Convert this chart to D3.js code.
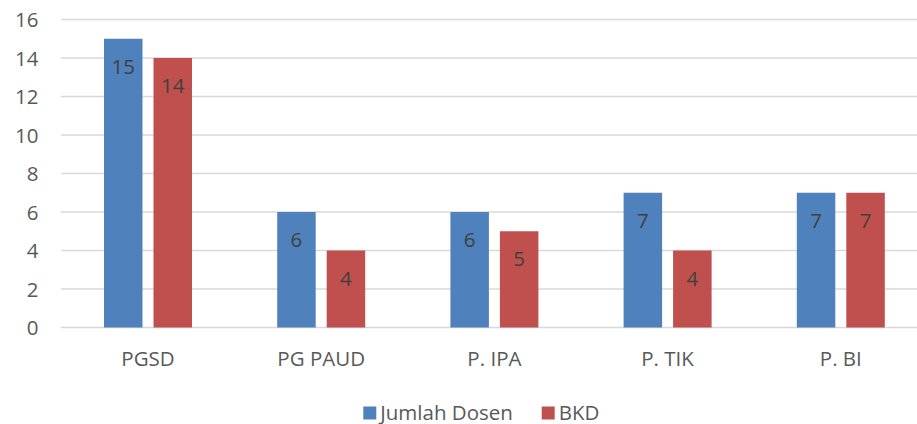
<!DOCTYPE html>
<html><head><meta charset="utf-8">
<script src="https://cdn.jsdelivr.net/npm/d3@7"></script>
<style>html,body{margin:0;padding:0;background:#fff;}svg{display:block;}</style>
</head><body>
<svg id="chart" width="917" height="424"></svg>
<script>
const categories = ["PGSD", "PG PAUD", "P. IPA", "P. TIK", "P. BI"];
const seriesNames = ["Jumlah Dosen", "BKD"];
const jumlahDosen = [15, 6, 6, 7, 7];
const bkd = [14, 4, 5, 4, 7];
const yTicks = [0, 2, 4, 6, 8, 10, 12, 14, 16];
const colors = ["#4F81BD", "#C0504D"];

const seriesValues = [jumlahDosen, bkd];
const svg = d3.select("#chart");
const font = "'Open Sans', sans-serif";
const fs = 20.5;

const x0 = d3.scaleBand().domain(categories).range([61.4, 927.4]).padding(0);
const x1 = d3.scaleBand().domain(seriesNames).range([42.6, 130.6]).paddingInner(0.2222).paddingOuter(0);
const y = d3.scaleLinear().domain([0, 16]).range([327.5, 19.5]);

// gridlines
svg.append("g").selectAll("line").data(yTicks).join("line")
  .attr("x1", 61).attr("x2", 917)
  .attr("y1", d => y(d)).attr("y2", d => y(d))
  .attr("stroke", "#D9D9D9").attr("stroke-width", 1.3);

// y axis labels
const yAxis = d3.axisLeft(y).tickValues(yTicks).tickSize(0).tickPadding(0);
const gy = svg.append("g").attr("transform", "translate(38.5,0)").call(yAxis);
gy.select(".domain").remove();
gy.selectAll("text").attr("font-family", font).attr("font-size", fs).attr("fill", "#595959").attr("dy", "0.36em");

// x axis labels
const xAxis = d3.axisBottom(x0).tickSize(0).tickPadding(0);
const gx = svg.append("g").attr("transform", "translate(0,366)").call(xAxis);
gx.select(".domain").remove();
gx.selectAll("text").attr("font-family", font).attr("font-size", fs).attr("fill", "#595959").attr("dy", "0").attr("y", 0);

// bars
const rows = [];
categories.forEach((c, i) => seriesNames.forEach((s, j) => rows.push({c, s, j, v: seriesValues[j][i]})));
const bars = svg.append("g");
bars.selectAll("rect").data(rows).join("rect")
  .attr("x", d => x0(d.c) + x1(d.s))
  .attr("y", d => y(d.v))
  .attr("width", x1.bandwidth())
  .attr("height", d => y(0) - y(d.v))
  .attr("fill", d => colors[d.j]);

bars.selectAll("text").data(rows).join("text")
  .attr("x", d => x0(d.c) + x1(d.s) + x1.bandwidth() / 2)
  .attr("y", d => y(d.v) + 35)
  .attr("text-anchor", "middle")
  .attr("font-family", font).attr("font-size", fs).attr("fill", "#404040")
  .text(d => d.v);

// legend
const legend = svg.append("g");
const legendX = [363.3, 541.7];
seriesNames.forEach((s, j) => {
  legend.append("rect").attr("x", legendX[j]).attr("y", 406.5).attr("width", 13).attr("height", 13).attr("fill", colors[j]);
  legend.append("text").attr("x", legendX[j] + 17).attr("y", 419.5)
    .attr("font-family", font).attr("font-size", fs).attr("fill", "#595959").text(s);
});
</script>
</body></html>
